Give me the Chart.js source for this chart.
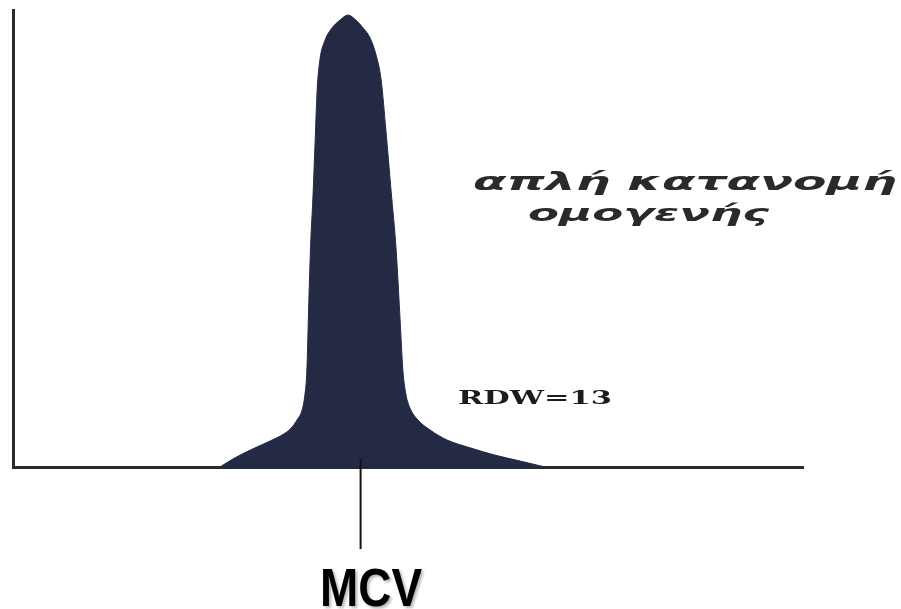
<!DOCTYPE html>
<html>
<head>
<meta charset="utf-8">
<script src="https://cdn.jsdelivr.net/npm/chart.js@4/dist/chart.umd.min.js"></script>
<style>
  html, body { margin: 0; padding: 0; background: #ffffff; }
  #wrap { width: 901px; height: 609px; position: relative; }
</style>
</head>
<body>
<div id="wrap"><canvas id="histograma"></canvas></div>
<script>
// cell volume (fl) and relative count
const volumes = [52.4, 54.4, 57.5, 61.3, 65.1, 68.1, 70.4, 71.9, 73.2, 73.9, 74.4, 74.9, 75.4, 75.9, 76.5, 77.0, 77.7,
                 79.0, 80.8, 82.8, 84.8, 86.8, 88.6, 90.4, 91.9, 93.2, 94.4, 95.7, 97.0, 98.0, 98.7, 99.5, 100.5,
                 102.5, 105.6, 109.9, 115.7, 122.0, 128.4, 134.7];
const counts  = [0, 1.1, 2.6, 4.2, 5.7, 7.0, 8.5, 10.3, 12.5, 15.8, 21.2, 36.5, 49.7, 58.4, 71.6, 82.5, 89.1,
                 93.4, 96.1, 97.8, 98.9, 97.8, 96.1, 93.9, 90.2, 84.7, 73.7, 60.6, 47.5, 32.2, 21.2, 15.8, 12.9,
                 10.3, 8.1, 5.9, 4.2, 2.6, 1.3, 0];

const mcv = 88;
const rdwLabel = 'RDW=13';
const curveLabel = ['απλή κατανομή', 'ομογενής'];
const mcvLabel = 'MCV';

const ctx = document.getElementById('histograma').getContext('2d');

function textoEstirado(ctx, texto, left, baseline, width, font, color) {
    ctx.save();
    ctx.font = font;
    const w = ctx.measureText(texto).width;
    ctx.translate(left, baseline);
    ctx.scale(width / w, 1);
    ctx.fillStyle = color;
    ctx.textBaseline = 'alphabetic';
    ctx.fillText(texto, 0, 0);
    ctx.restore();
}

const anotaciones = {
    id: 'anotaciones',
    afterDraw(chart) {
        const { ctx, scales } = chart;
        const xm = scales.x.getPixelForValue(mcv);
        const y0 = scales.y.getPixelForValue(0);

        // MCV marker
        ctx.save();
        ctx.strokeStyle = '#111111';
        ctx.lineWidth = 2;
        ctx.beginPath();
        ctx.moveTo(xm, y0 - 8);
        ctx.lineTo(xm, y0 + 82);
        ctx.stroke();
        ctx.restore();

        textoEstirado(ctx, curveLabel[0], 473, 190, 424, 'bold oblique 25px "DejaVu Sans"', '#2a2a2a');
        textoEstirado(ctx, curveLabel[1], 528, 221, 241, 'bold oblique 23px "DejaVu Sans"', '#2a2a2a');
        textoEstirado(ctx, rdwLabel, 458, 404, 154, 'bold 19px "DejaVu Serif"', '#1c1c1c');

        ctx.save();
        ctx.shadowColor = 'rgba(0,0,0,0.3)';
        ctx.shadowOffsetX = 2;
        ctx.shadowOffsetY = 2;
        ctx.shadowBlur = 3;
        textoEstirado(ctx, mcvLabel, 320, 606, 102, 'bold 54px "Liberation Sans"', '#000000');
        ctx.restore();
    }
};

new Chart(ctx, {
    type: 'line',
    data: {
        datasets: [{
            data: volumes.map((v, i) => ({ x: v, y: counts[i] })),
            backgroundColor: '#242a44',
            borderColor: '#242a44',
            borderWidth: 1,
            fill: 'origin',
            pointRadius: 0,
            cubicInterpolationMode: 'monotone'
        }]
    },
    options: {
        responsive: true,
        maintainAspectRatio: false,
        animation: false,
        layout: {
            padding: { left: 13, right: 98, top: 10, bottom: 142 }
        },
        plugins: {
            legend: { display: false },
            tooltip: { enabled: false }
        },
        scales: {
            x: {
                type: 'linear',
                min: 0,
                max: 200,
                ticks: { display: false },
                grid: { display: false, drawTicks: false },
                border: { display: true, color: '#2b2b2b', width: 3 }
            },
            y: {
                min: 0,
                max: 100,
                ticks: { display: false },
                grid: { display: false, drawTicks: false },
                border: { display: true, color: '#2b2b2b', width: 3 }
            }
        }
    },
    plugins: [anotaciones]
});
</script>
</body>
</html>
